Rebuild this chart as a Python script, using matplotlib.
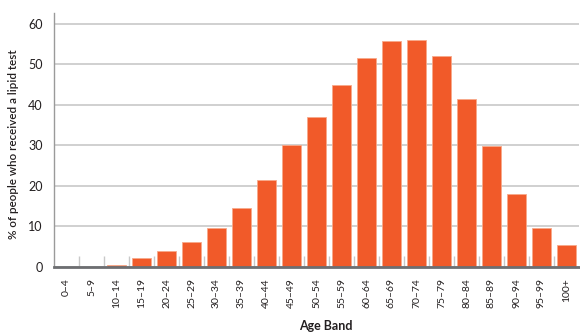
import numpy as np
import matplotlib.pyplot as plt

plt.rcParams['font.family'] = ['Lato', 'DejaVu Sans']

# Age bands and share receiving a lipid test (%)
age_bands = ['0–4', '5–9', '10–14', '15–19', '20–24', '25–29', '30–34',
             '35–39', '40–44', '45–49', '50–54', '55–59', '60–64', '65–69',
             '70–74', '75–79', '80–84', '85–89', '90–94', '95–99', '100+']
pct_tested = [0.05, 0.05, 0.4, 2.3, 3.9, 6.1, 9.6, 14.5, 21.4, 30.0, 37.0,
              44.9, 51.5, 55.8, 56.1, 52.0, 41.5, 29.8, 18.0, 9.7, 5.4]

bar_color = '#F15A29'
grid_color = '#c8c8c8'
text_color = '#231f20'

fig = plt.figure(figsize=(5.8, 3.34), dpi=100)
ax = fig.add_axes([54 / 580, 67 / 334, 525 / 580, 254 / 334])

x = np.arange(len(age_bands))
ax.bar(x, pct_tested, width=0.73, color=bar_color, edgecolor='#f8a98a',
       linewidth=0.6, zorder=3)

ax.set_xlim(-0.5, len(age_bands) - 0.5)
ax.set_ylim(0, 62.7)
ax.set_yticks([0, 10, 20, 30, 40, 50, 60])
ax.yaxis.grid(True, color=grid_color, linewidth=1.2, zorder=0)
ax.set_axisbelow(True)

# category labels, with short separators between bands
ax.set_xticks(x)
ax.set_xticklabels(age_bands, rotation=90, fontsize=7.5, color=text_color)
ax.set_xticks(x[:-1] + 0.5, minor=True)
ax.tick_params(axis='x', which='major', length=0, pad=8)
ax.tick_params(axis='x', which='minor', direction='in', length=8,
               color=grid_color, width=1)
ax.tick_params(axis='y', length=0, pad=8, labelsize=9, labelcolor=text_color)

for side in ['top', 'right']:
    ax.spines[side].set_visible(False)
ax.spines['left'].set_color('#9a9a9a')
ax.spines['left'].set_linewidth(1.0)
ax.spines['bottom'].set_color('#6d6e71')
ax.spines['bottom'].set_linewidth(2.0)
ax.spines['bottom'].set_zorder(4)

ax.set_ylabel('% of people who received a lipid test', fontsize=8.4,
              fontweight='semibold', color=text_color)
ax.yaxis.set_label_coords(-0.066, 0.485)
ax.set_xlabel('Age Band', fontsize=9, fontweight='bold', color=text_color)
ax.xaxis.set_label_coords(0.517, -0.208)

plt.savefig('out.png', dpi=100)
